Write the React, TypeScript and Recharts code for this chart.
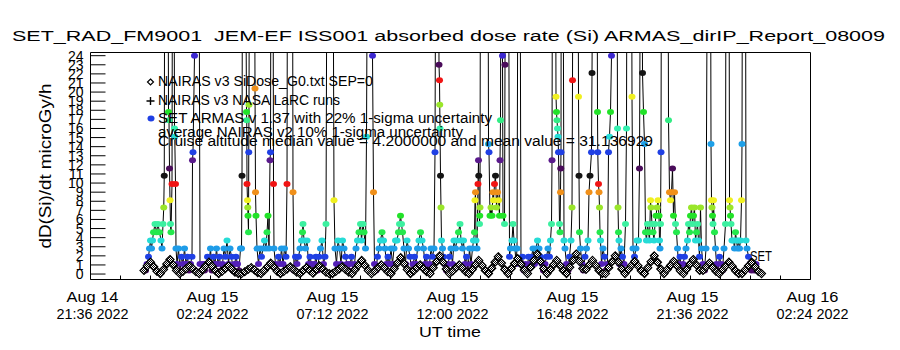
import React from 'react';
import { ComposedChart, Line, XAxis, YAxis } from 'recharts';

// hours after Aug 14 21:36 UT
const majorHours = [0, 4.8, 9.6, 14.4, 19.2, 24, 28.8];
const minorHours = [0, 1.2, 2.4, 3.6, 4.8, 6, 7.2, 8.4, 9.6, 10.8, 12, 13.2, 14.4, 15.6, 16.8, 18, 19.2, 20.4, 21.6, 22.8, 24, 25.2, 26.4, 27.6, 28.8];
const dayLabels = ['Aug 14', 'Aug 15', 'Aug 15', 'Aug 15', 'Aug 15', 'Aug 15', 'Aug 16'];
const timeLabels = ['21:36 2022', '02:24 2022', '07:12 2022', '12:00 2022', '16:48 2022', '21:36 2022', '02:24 2022'];
const doseTicks = [0, 1, 2, 3, 4, 5, 6, 7, 8, 9, 10, 11, 12, 13, 14, 15, 16, 17, 18, 19, 20, 21, 22, 23, 24];

// NAIRAS v3 SiDose, regular cadence
const nairasStartHour = 2.14;
const nairasStepHour = 0.13;
const nairasDose = [
  0.4, 0.9, 1.3, 0.8, 0.3, 0.05, 0.5, 1.1, 1.6, 1.0, 0.4, 0.05,
  0.3, 0.6, 0.9, 0.6, 0.25, 0.05, 0.45, 0.9, 1.3, 0.85, 0.35, 0.05,
  0.3, 0.6, 0.9, 0.55, 0.2, 0.05, 0.05, 0.25, 0.5, 0.7, 0.45, 0.15, 0.05,
  0.4, 0.8, 1.2, 0.75, 0.3, 0.05, 0.3, 0.55, 0.8, 0.5, 0.2, 0.05,
  0.4, 0.7, 0.4, 0.1, 0.5, 0.9, 0.55, 0.2, 0.05, 0.05,
  0.3, 0.55, 0.8, 0.5, 0.2, 0.05, 0.5, 1.0, 1.5, 0.95, 0.4, 0.05,
  0.35, 0.7, 1.0, 0.65, 0.25, 0.05, 0.6, 1.2, 1.8, 1.15, 0.5, 0.05,
  0.35, 0.7, 1.0, 0.6, 0.25, 0.05, 0.7, 1.35, 2.0, 1.3, 0.55, 0.05,
  0.35, 0.7, 1.0, 0.65, 0.25, 0.05, 0.5, 1.0, 1.5, 0.95, 0.4, 0.05,
  0.65, 1.3, 1.9, 1.2, 0.5, 0.05, 0.6, 1.15, 1.7, 1.1, 0.45, 0.05,
  0.75, 1.5, 2.2, 1.4, 0.6, 0.05, 0.5, 1.0, 1.5, 0.95, 0.4, 0.05,
  0.75, 1.5, 2.2, 1.4, 0.6, 0.5, 1.0, 1.5, 0.95, 0.4, 0.05, 0.05,
  0.7, 1.35, 2.0, 1.3, 0.55, 0.05, 0.5, 0.95, 1.4, 0.9, 0.35, 0.05,
  0.7, 1.35, 2.0, 1.3, 0.55, 0.05, 0.5, 0.95, 1.4, 0.9, 0.35, 0.05,
  0.55, 1.1, 1.6, 1.0, 0.4, 0.4, 0.8, 1.2, 0.75, 0.3, 0.05,
  0.45, 0.9, 1.3, 0.85, 0.35, 0.05, 0.05, 0.45, 0.9, 1.3, 0.8, 0.3, 0.05,
];

// SET ARMAS readings: [hour, dose]
const armasReadings: [number, number][] = [
  [2.20, 0.4], [2.26, 1.1], [2.32, 1.9], [2.36, 2.8], [2.40, 3.7], [2.44, 2.8], [2.48, 3.7], [2.52, 4.6], [2.58, 5.5], [2.64, 4.6],
  [2.70, 5.5], [2.76, 4.6], [2.82, 3.7], [2.86, 2.8], [2.90, 5.5], [2.93, 7.3], [2.95, 10.8], [2.97, 40],
  [3.10, 40], [3.12, 17.8], [3.14, 16.9], [3.16, 11.6], [3.18, 8.1], [3.20, 5.5], [3.22, 4.6], [3.26, 9.9], [3.28, 40],
  [3.34, 40], [3.36, 16.0], [3.37, 15.1], [3.40, 9.9], [3.42, 2.8],
  [3.46, 1.1], [3.52, 2.8], [3.58, 0.4], [3.64, 1.9], [3.70, 1.1], [3.76, 2.8], [3.82, 1.1], [3.88, 1.9], [3.94, 0.4], [4.00, 1.1],
  [4.06, 1.9], [4.08, 12.5], [4.10, 13.4], [4.16, 24.0], [4.18, 40],
  [4.34, 40], [4.38, 1.1], [4.44, 0.4], [4.50, 1.1],
  [4.56, 0.4], [4.62, 1.1], [4.68, 1.9], [4.74, 1.1], [4.80, 2.8], [4.86, 0.4], [4.92, 1.9], [4.98, 1.1], [5.04, 2.8], [5.10, 1.1],
  [5.16, 1.9], [5.22, 0.4], [5.28, 1.1], [5.34, 2.8], [5.40, 1.9], [5.46, 3.7], [5.52, 1.1], [5.58, 2.8], [5.64, 1.9], [5.70, 0.4],
  [5.76, 1.1], [5.82, 1.9], [5.88, 1.1], [5.94, 0.4], [6.00, 2.8],
  [6.04, 2.8], [6.06, 10.8], [6.08, 40],
  [6.20, 40], [6.24, 17.8], [6.25, 16.9], [6.26, 9.9], [6.28, 8.1], [6.29, 7.3], [6.30, 6.4], [6.32, 4.6], [6.33, 13.4], [6.34, 18.6], [6.36, 40],
  [6.56, 40], [6.58, 20.4], [6.60, 9.0], [6.62, 6.4], [6.66, 2.8],
  [6.72, 1.1], [6.78, 2.8], [6.84, 1.9], [6.90, 2.8], [6.96, 3.7], [7.02, 2.8], [7.06, 4.6], [7.10, 6.4], [7.14, 2.8], [7.18, 12.5], [7.20, 13.4], [7.22, 40],
  [7.30, 40], [7.32, 9.9], [7.34, 2.8], [7.40, 1.1], [7.46, 0.4], [7.52, 1.9], [7.58, 1.1], [7.64, 2.8], [7.70, 1.1], [7.76, 2.8], [7.82, 1.9], [7.86, 9.9], [7.88, 40],
  [8.08, 40], [8.10, 9.0], [8.14, 0.4], [8.20, 1.9], [8.26, 1.1],
  [8.32, 1.9], [8.38, 2.8], [8.44, 3.7], [8.48, 4.6], [8.50, 5.5], [8.54, 3.7], [8.60, 2.8], [8.66, 3.7], [8.72, 1.1], [8.78, 1.9],
  [8.84, 1.1], [8.90, 0.4], [8.96, 1.1], [9.02, 1.9], [9.08, 0.4], [9.14, 1.9], [9.20, 2.8], [9.26, 3.7], [9.32, 1.1], [9.38, 1.9], [9.42, 5.5], [9.46, 40],
  [9.70, 40], [9.74, 8.1], [9.78, 2.8], [9.84, 1.1], [9.90, 3.7], [9.96, 2.8], [10.02, 1.1], [10.08, 3.7], [10.14, 2.8], [10.20, 1.9],
  [10.26, 1.1], [10.32, 0.4], [10.38, 1.1], [10.44, 1.9], [10.50, 0.4], [10.56, 1.1],
  [10.62, 2.8], [10.68, 3.7], [10.74, 4.6], [10.80, 5.5], [10.84, 3.7], [10.90, 5.5], [10.94, 4.6], [11.00, 2.8], [11.04, 15.1], [11.08, 40],
  [11.26, 40], [11.28, 24.0], [11.32, 9.0], [11.36, 1.1], [11.42, 0.4], [11.48, 1.9], [11.54, 2.8], [11.60, 3.7], [11.66, 4.6], [11.72, 3.7],
  [11.78, 2.8], [11.84, 1.1], [11.90, 1.9], [11.96, 1.1],
  [12.02, 2.8], [12.08, 1.1], [12.14, 2.8], [12.20, 3.7], [12.26, 3.7], [12.32, 4.6], [12.36, 5.5], [12.40, 6.4], [12.44, 5.5], [12.48, 4.6],
  [12.54, 2.8], [12.60, 1.1], [12.66, 3.7], [12.72, 2.8], [12.78, 1.9], [12.84, 0.4], [12.90, 1.1], [12.96, 1.9], [13.02, 1.1], [13.08, 2.8],
  [13.14, 3.7], [13.20, 4.6], [13.26, 3.7], [13.32, 2.8], [13.38, 1.1], [13.44, 1.9], [13.50, 0.4], [13.56, 1.1], [13.62, 2.8], [13.68, 1.9],
  [13.74, 2.8], [13.78, 13.4], [13.81, 40],
  [13.92, 40], [13.94, 23.0], [13.96, 21.3], [13.97, 18.6], [13.98, 16.0], [14.00, 10.8], [14.02, 7.3], [14.04, 3.7], [14.08, 2.8], [14.12, 1.9],
  [14.18, 1.1], [14.24, 0.4], [14.30, 1.1], [14.36, 1.9], [14.42, 2.8], [14.48, 1.1], [14.54, 3.7], [14.60, 2.8], [14.66, 3.7], [14.72, 4.6],
  [14.78, 5.5], [14.82, 3.7], [14.88, 2.8], [14.92, 3.7], [14.98, 1.1], [15.04, 1.9], [15.10, 0.4], [15.16, 2.8], [15.22, 1.1], [15.28, 2.8],
  [15.32, 3.7], [15.36, 4.6], [15.38, 8.1], [15.40, 9.0], [15.42, 3.7], [15.46, 2.8], [15.50, 9.9], [15.52, 12.5], [15.53, 10.8], [15.56, 5.5],
  [15.57, 6.4], [15.58, 7.3], [15.60, 40],
  [15.90, 40], [15.92, 14.3], [15.94, 13.4], [15.98, 6.4], [16.02, 7.3], [16.06, 6.4], [16.10, 9.0], [16.12, 8.1], [16.16, 9.9], [16.20, 10.8],
  [16.24, 7.3], [16.28, 9.0], [16.32, 8.1], [16.36, 6.4], [16.38, 12.5], [16.40, 16.9], [16.42, 40],
  [16.46, 40], [16.48, 24.0], [16.50, 6.4], [16.56, 5.5], [16.58, 23.0], [16.60, 40],
  [16.72, 40], [16.76, 1.9],
  [16.80, 2.8], [16.86, 3.7], [16.90, 5.5], [16.94, 3.7], [16.98, 2.8], [17.02, 1.1], [17.06, 2.8], [17.10, 40],
  [17.18, 40], [17.22, 1.1], [17.28, 1.9], [17.34, 0.4], [17.40, 1.1], [17.46, 0.4], [17.52, 1.9], [17.58, 1.1], [17.64, 1.9], [17.70, 2.8],
  [17.76, 1.1], [17.82, 2.8], [17.88, 3.7], [17.94, 2.8], [18.00, 1.9], [18.06, 1.1], [18.12, 0.4], [18.18, 1.1], [18.24, 1.9],
  [18.30, 2.8], [18.36, 1.9], [18.40, 3.7], [18.44, 5.5], [18.46, 12.5], [18.48, 40],
  [18.60, 40], [18.62, 19.5], [18.64, 17.8], [18.66, 16.9], [18.68, 16.0], [18.70, 15.1], [18.72, 13.4], [18.76, 5.5], [18.78, 4.6], [18.80, 9.0],
  [18.81, 11.6], [18.82, 13.4], [18.83, 40],
  [18.90, 40], [18.94, 3.7], [18.98, 2.8], [19.04, 1.1], [19.10, 0.4], [19.16, 1.9], [19.22, 3.7], [19.26, 7.3], [19.28, 21.3], [19.30, 40],
  [19.50, 40], [19.52, 19.5], [19.54, 10.8], [19.56, 4.6], [19.60, 2.8], [19.66, 1.1], [19.72, 0.4], [19.78, 1.9],
  [19.84, 2.8], [19.90, 3.7], [19.94, 9.0], [19.98, 10.8], [20.04, 13.4], [20.06, 22.1], [20.10, 40],
  [20.26, 40], [20.28, 17.8], [20.29, 13.4], [20.32, 9.9], [20.34, 9.0], [20.36, 7.3], [20.38, 4.6], [20.40, 3.7], [20.44, 1.1], [20.50, 2.8],
  [20.56, 1.9], [20.62, 0.4], [20.68, 1.1], [20.72, 13.4], [20.76, 15.1], [20.80, 17.8], [20.84, 24.0], [20.86, 40],
  [21.06, 40], [21.08, 16.0], [21.10, 7.3], [21.12, 4.6], [21.14, 3.7], [21.16, 1.1], [21.22, 2.8], [21.28, 1.9], [21.34, 1.1], [21.40, 5.5],
  [21.44, 16.0], [21.46, 40],
  [21.64, 40], [21.66, 19.5], [21.70, 2.8],
  [21.76, 1.9], [21.82, 2.8], [21.86, 3.7], [21.92, 3.7], [21.96, 11.6], [22.00, 40],
  [22.06, 40], [22.08, 22.1], [22.12, 17.8], [22.16, 14.3], [22.20, 4.6], [22.24, 3.7], [22.28, 5.5], [22.32, 4.6], [22.36, 3.7], [22.40, 8.1],
  [22.42, 7.3], [22.46, 5.5], [22.50, 4.6], [22.54, 3.7], [22.58, 5.5], [22.62, 6.4], [22.66, 7.3], [22.70, 8.1], [22.74, 6.4], [22.76, 3.7],
  [22.78, 2.8], [22.80, 5.5], [22.82, 13.4], [22.84, 40],
  [23.10, 40], [23.12, 16.9], [23.16, 9.0], [23.20, 8.1], [23.24, 9.0], [23.28, 11.6], [23.32, 6.4], [23.36, 9.0], [23.40, 5.5], [23.44, 4.6],
  [23.48, 2.8], [23.52, 1.1], [23.58, 1.9], [23.64, 0.4], [23.70, 1.1], [23.76, 1.9], [23.82, 2.8],
  [23.88, 3.7], [23.92, 5.5], [23.96, 4.6], [24.00, 6.4], [24.04, 7.3], [24.08, 5.5], [24.12, 6.4], [24.16, 7.3], [24.20, 3.7], [24.24, 4.6],
  [24.28, 5.5], [24.32, 3.7], [24.36, 1.9], [24.40, 7.3], [24.44, 2.8], [24.50, 1.1], [24.56, 0.4], [24.62, 2.8], [24.68, 40],
  [24.80, 40], [24.82, 14.3], [24.84, 8.1], [24.86, 7.3], [24.88, 6.4], [24.90, 5.5], [24.92, 8.1], [24.96, 4.6], [25.00, 2.8], [25.04, 1.1],
  [25.10, 0.4], [25.16, 1.9], [25.22, 1.1], [25.28, 0.4], [25.34, 2.8], [25.40, 5.5], [25.42, 40],
  [25.54, 40], [25.56, 8.1], [25.58, 7.3], [25.60, 6.4], [25.62, 5.5], [25.66, 3.7], [25.72, 3.7], [25.76, 2.8], [25.80, 4.6], [25.84, 3.7],
  [25.88, 2.8], [25.92, 3.7], [25.96, 2.8], [26.00, 3.7], [26.04, 8.1], [26.06, 14.3], [26.08, 40],
  [26.20, 40], [26.22, 3.7], [26.26, 2.8], [26.32, 1.9], [26.38, 1.1], [26.44, 0.4], [26.50, 1.1], [26.56, 0.4], [26.62, 1.1], [26.68, 0.4],
];

// colour table, one entry per dose step (IDL-like cycling palette)
const levelColors = [
  '#4a0a6a', '#5420b8', '#2040e4', '#1e9ce8', '#26dcd6', '#24e84c', '#3cf0a0', '#22e228',
  '#9ae62a', '#f0f020', '#f0901a', '#f01414', '#141414', '#4a0c5a', '#5a1a8c', '#2040e4',
  '#1ea0e8', '#26dcd6', '#34f0b0', '#32ec84', '#22e228', '#9ae62a', '#f0f020', '#f0901a',
  '#f01414', '#141414', '#4a0c5a', '#3c28d0',
];
const colorFor = (v: number) => {
  const k = Math.max(0, Math.min(levelColors.length - 1, Math.round((v - 0.4) / 0.874)));
  return levelColors[k];
};

const FONT = '"Liberation Sans", Arial, sans-serif';

const ArmasDot = (props: any) => {
  const { cx, cy, payload, index } = props;
  if (cx == null || cy == null) return <g key={`a${index}`} />;
  return <ellipse key={`a${index}`} cx={cx} cy={cy} rx={3.5} ry={3} fill={colorFor(payload.v)} />;
};

const DiamondDot = (props: any) => {
  const { cx, cy, index } = props;
  if (cx == null || cy == null) return <g key={`n${index}`} />;
  return (
    <path
      key={`n${index}`}
      d={`M${cx},${cy - 4}L${cx + 4},${cy}L${cx},${cy + 4}L${cx - 4},${cy}Z`}
      fill="url(#checker)"
      stroke="#000"
      strokeWidth={1.2}
    />
  );
};

// bottom axis: inward tick marks plus two-line date labels on the majors
const TimeTick = ({ x, y, payload }: any) => {
  const i = majorHours.indexOf(payload.value);
  return (
    <g fontFamily={FONT} fontSize={14} fill="#000">
      <line x1={x} x2={x} y1={y} y2={y - 4} stroke="#000" />
      {i >= 0 && (
        <>
          <text x={x + 2} y={y + 22.5} textAnchor="middle" textLength={52} lengthAdjust="spacingAndGlyphs">{dayLabels[i]}</text>
          <text x={x + 2} y={y + 39.5} textAnchor="middle" textLength={72} lengthAdjust="spacingAndGlyphs">{timeLabels[i]}</text>
        </>
      )}
    </g>
  );
};

// left axis: inward tick marks plus the (overlapping) integer labels
const DoseTick = ({ x, y, payload }: any) => (
  <g>
    <line x1={x} x2={x + 15} y1={y} y2={y} stroke="#000" />
    <text x={x - 7} y={y + 5} textAnchor="end" fontFamily={FONT} fontSize={14} fill="#000">{payload.value}</text>
  </g>
);

const App: React.FC = () => {
  const armasData = armasReadings.map(([t, v]) => ({ t, v }));
  const nairasData = nairasDose.map((v, i) => ({ t: nairasStartHour + i * nairasStepHour, v }));

  return (
    <div style={{ position: 'absolute', left: 0, top: 0, width: 900, height: 350, background: '#fff' }}>
      <ComposedChart width={900} height={350} margin={{ top: 52.5, right: 89.5, bottom: 0, left: 0 }}>
        <XAxis
          xAxisId="main"
          dataKey="t"
          type="number"
          domain={[0, 28.8]}
          ticks={minorHours}
          interval={0}
          height={70.5}
          tickLine={false}
          tickSize={0}
          tickMargin={0}
          axisLine={{ stroke: '#000' }}
          tick={<TimeTick />}
        />
        <XAxis xAxisId="topTicks" type="number" domain={[0, 28.8]} allowDataOverflow ticks={minorHours} interval={0} mirror orientation="top" tickSize={4} tick={false} axisLine={{ stroke: '#000' }} tickLine={{ stroke: '#000' }} />
        <YAxis
          yAxisId="main"
          type="number"
          domain={[-0.6, 24.35]}
          ticks={doseTicks}
          interval={0}
          allowDataOverflow
          width={90.5}
          tickLine={false}
          tickSize={0}
          tickMargin={0}
          axisLine={{ stroke: '#000' }}
          tick={<DoseTick />}
        />
        <YAxis yAxisId="rightTicks" type="number" domain={[-0.6, 24.35]} allowDataOverflow ticks={doseTicks} interval={0} mirror orientation="right" tickSize={13} tick={false} axisLine={{ stroke: '#000' }} tickLine={{ stroke: '#000' }} />
        <Line
          xAxisId="main"
          yAxisId="main"
          data={armasData}
          dataKey="v"
          type="linear"
          stroke="#000"
          strokeWidth={1}
          dot={ArmasDot}
          activeDot={false}
          isAnimationActive={false}
        />
        <Line
          xAxisId="main"
          yAxisId="main"
          data={nairasData}
          dataKey="v"
          type="linear"
          stroke="#000"
          strokeWidth={2}
          dot={DiamondDot}
          activeDot={false}
          isAnimationActive={false}
        />
        <Line
          xAxisId="topTicks"
          yAxisId="rightTicks"
          data={nairasData}
          dataKey="v"
          stroke="none"
          dot={false}
          activeDot={false}
          legendType="none"
          isAnimationActive={false}
        />
      </ComposedChart>
      <svg width={900} height={350} style={{ position: 'absolute', left: 0, top: 0, pointerEvents: 'none' }} fontFamily={FONT} fill="#000">
        <defs>
          <pattern id="checker" width={2} height={2} patternUnits="userSpaceOnUse">
            <rect width={2} height={2} fill="#fff" />
            <rect width={1} height={1} fill="#000" />
            <rect x={1} y={1} width={1} height={1} fill="#000" />
          </pattern>
        </defs>
        <text x={12} y={41} fontSize={15.5} textLength={873} lengthAdjust="spacingAndGlyphs" style={{ whiteSpace: 'pre' }}>
          {'SET_RAD_FM9001  JEM-EF ISS001 absorbed dose rate (Si) ARMAS_dirIP_Report_08009'}
        </text>
        <text transform="translate(51,166) rotate(-90)" textAnchor="middle" fontSize={17} textLength={165} lengthAdjust="spacingAndGlyphs">
          dD(Si)/dt microGy/h
        </text>
        <path d="M150.5,79L153.5,82L150.5,85L147.5,82Z" fill="none" stroke="#000" strokeWidth={1.2} />
        <text x={158} y={86} fontSize={14} textLength={215} lengthAdjust="spacingAndGlyphs">NAIRAS v3 SiDose_G0.txt SEP=0</text>
        <path d="M146.5,101H154.5M150.5,97V105" stroke="#000" strokeWidth={1.4} />
        <text x={158} y={104.5} fontSize={14} textLength={182} lengthAdjust="spacingAndGlyphs">NAIRAS v3 NASA LaRC runs</text>
        <ellipse cx={151} cy={118.5} rx={3.5} ry={3} fill="#2040e4" />
        <text x={158} y={123} fontSize={14} textLength={334} lengthAdjust="spacingAndGlyphs">SET ARMAS v 1.37 with 22% 1-sigma uncertainty</text>
        <text x={158} y={136.5} fontSize={14} textLength={305} lengthAdjust="spacingAndGlyphs">average NAIRAS v2 10% 1-sigma uncertainty</text>
        <text x={158} y={146} fontSize={14} textLength={495} lengthAdjust="spacingAndGlyphs">Cruise altitude median value = 4.2000000 and mean value = 31.136929</text>
        <text x={750} y={261} fontSize={14} textLength={22} lengthAdjust="spacingAndGlyphs">SET</text>
        <text x={450} y={337} fontSize={15} textAnchor="middle" textLength={62} lengthAdjust="spacingAndGlyphs">UT time</text>
      </svg>
    </div>
  );
};

export default App;
